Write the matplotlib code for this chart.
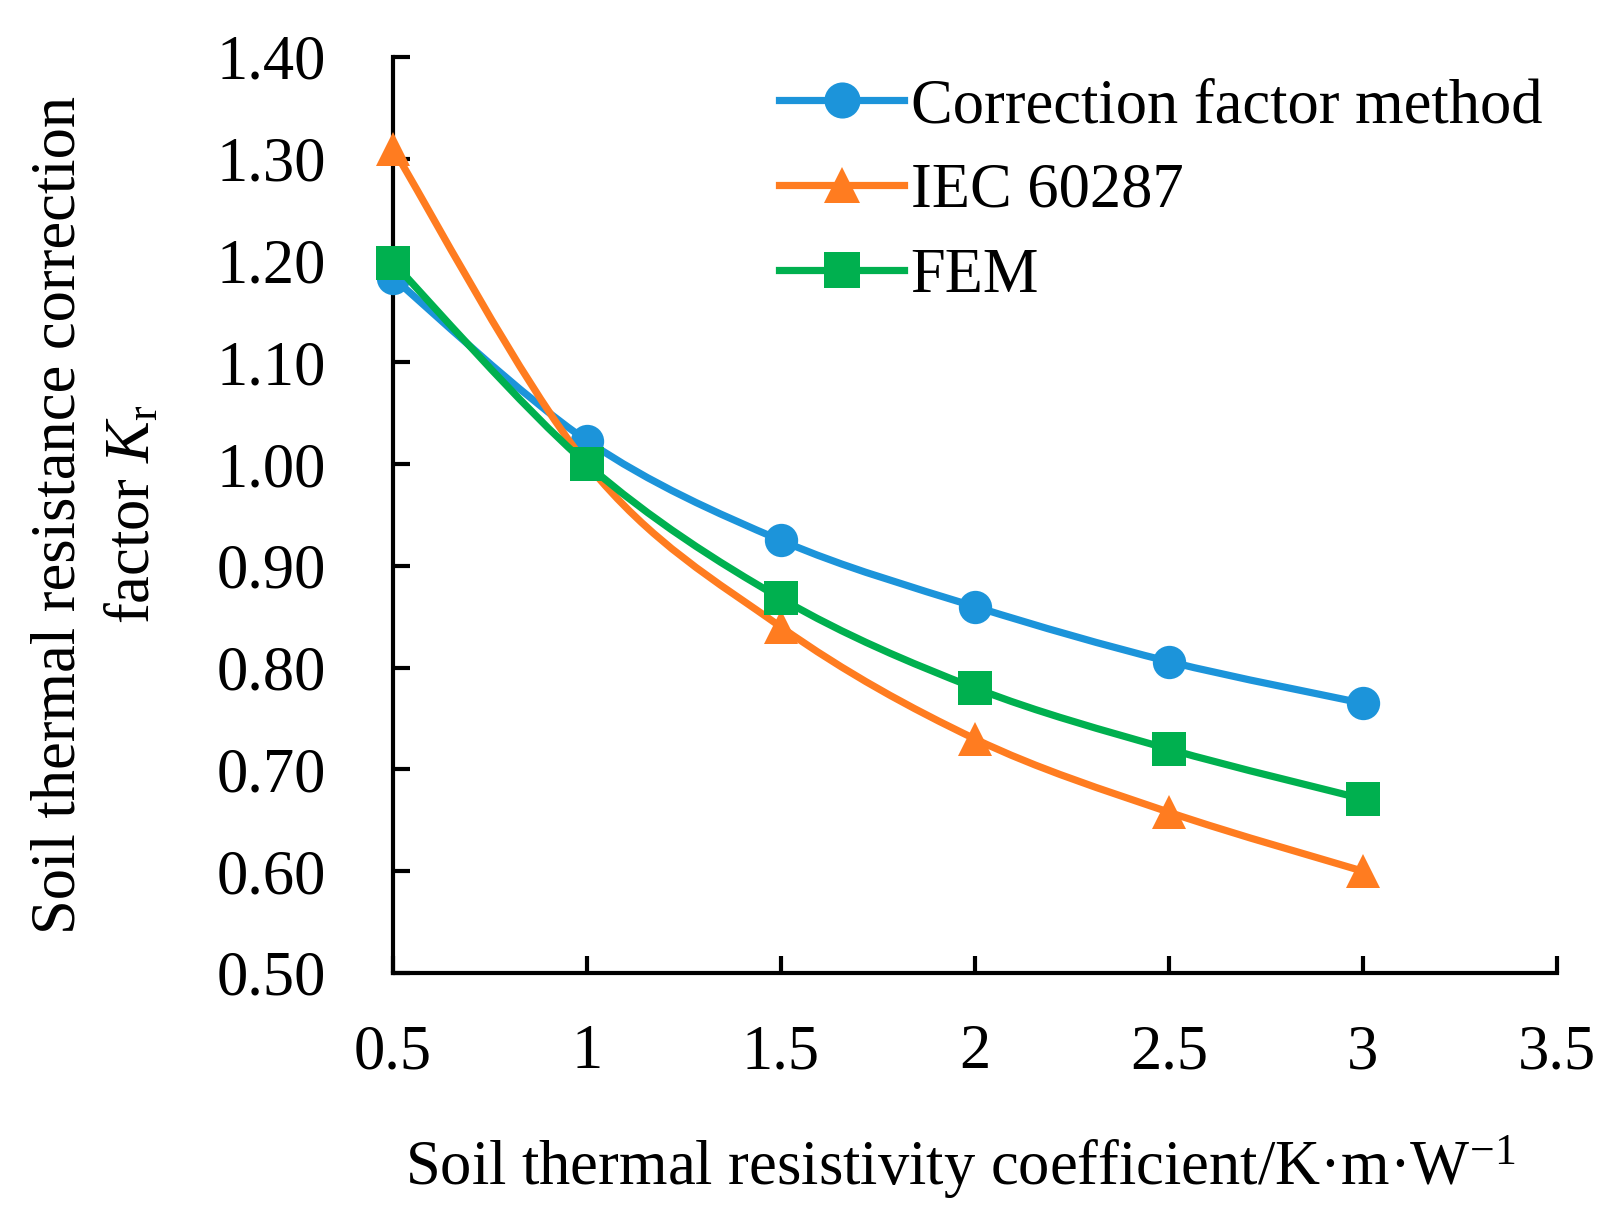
import numpy as np
import matplotlib
matplotlib.use("Agg")
import matplotlib.pyplot as plt
from matplotlib.path import Path
from matplotlib.patches import PathPatch
from matplotlib.lines import Line2D

# 土壤热阻系数 (K·m/W)
x = [0.5, 1.0, 1.5, 2.0, 2.5, 3.0]

# 各方法的修正系数
correction = [1.183, 1.023, 0.925, 0.860, 0.806, 0.765]
iec = [1.310, 1.000, 0.840, 0.730, 0.658, 0.600]
fem = [1.198, 1.000, 0.868, 0.780, 0.720, 0.671]

labels = ["Correction factor method", "IEC 60287", "FEM"]
colors = ["#1C94DA", "#FF7C20", "#00B04F"]
markers = ["o", "^", "s"]

yticks = [0.50, 0.60, 0.70, 0.80, 0.90, 1.00, 1.10, 1.20, 1.30, 1.40]
xticks = [0.5, 1, 1.5, 2, 2.5, 3, 3.5]

plt.rcParams['font.family'] = ['Liberation Serif', 'DejaVu Serif']
plt.rcParams['mathtext.fontset'] = 'custom'
plt.rcParams['mathtext.rm'] = 'Liberation Serif'
plt.rcParams['mathtext.it'] = 'Liberation Serif:italic'


def smooth_path(xs, ys):
    # Excel 风格的平滑曲线 (贝塞尔)
    pts = np.column_stack([xs, ys])
    n = len(pts)
    verts = [pts[0]]
    codes = [Path.MOVETO]
    for i in range(n - 1):
        p0 = pts[i - 1] if i > 0 else pts[i]
        p1 = pts[i]
        p2 = pts[i + 1]
        p3 = pts[i + 2] if i + 2 < n else pts[i + 1]
        c1 = p1 + (p2 - p0) / 6.0
        c2 = p2 - (p3 - p1) / 6.0
        verts += [c1, c2, p2]
        codes += [Path.CURVE4] * 3
    return Path(verts, codes)


fig = plt.figure(figsize=(16.15, 12.15), dpi=100)
ax = fig.add_axes([0.2433, 0.1992, 0.7207, 0.7539])

lw = 5.2
ms = 24
handles = []
for i, (ys, lab, c, m) in enumerate(zip([correction, iec, fem], labels, colors, markers)):
    patch = PathPatch(smooth_path(x, ys), facecolor='none', edgecolor=c,
                      linewidth=lw, zorder=3 + i * 2, capstyle='round')
    ax.add_patch(patch)
    ax.plot(x, ys, linestyle='none', marker=m, markersize=ms, color=c,
            markeredgewidth=0, zorder=4 + i * 2, clip_on=False)
    handles.append(Line2D([], [], color=c, linewidth=lw, marker=m,
                          markersize=ms + 2, markeredgewidth=0))

ax.set_xlim(0.5, 3.5)
ax.set_ylim(0.5, 1.4)
ax.set_xticks(xticks)
ax.set_xticklabels(["0.5", "1", "1.5", "2", "2.5", "3", "3.5"])
ax.set_yticks(yticks)
ax.set_yticklabels(["%.2f" % v for v in yticks])

for s in ['top', 'right']:
    ax.spines[s].set_visible(False)
for s in ['left', 'bottom']:
    ax.spines[s].set_linewidth(3)
    ax.spines[s].set_color('black')

ax.tick_params(axis='both', direction='in', length=12, width=3,
               labelsize=45, colors='black')
ax.tick_params(axis='x', pad=37)
ax.tick_params(axis='y', pad=48)

ax.set_xlabel("Soil thermal resistivity coefficient/K·m·W$^{-1}$", fontsize=45)
ax.xaxis.set_label_coords(0.487, -0.175)
ax.xaxis.label.set_va('top')

ax.set_ylabel("Soil thermal resistance correction\nfactor $K_\\mathrm{r}$",
              fontsize=45, linespacing=1.4)
ax.yaxis.set_label_coords(-0.197, 0.5)

ax.legend(handles, labels, loc='upper left', bbox_to_anchor=(0.332, 0.977),
          frameon=False, fontsize=45, handlelength=2.0, handletextpad=0.1,
          labelspacing=0.43, borderpad=0, borderaxespad=0, numpoints=1)

fig.savefig("out.png", dpi=100)
